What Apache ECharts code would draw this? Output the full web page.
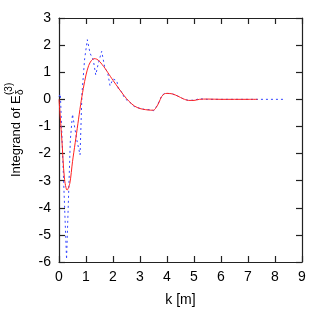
<!DOCTYPE html>
<html>
<head>
<meta charset="utf-8">
<script src="https://cdn.jsdelivr.net/npm/echarts@6/dist/echarts.min.js"></script>
<style>html,body{margin:0;padding:0;background:#fff;}#c{width:327px;height:312px;}</style>
</head>
<body>
<div id="c"></div>
<script>
// Red solid curve (smoothed)
var redK = [0, 0.1, 0.2, 0.3, 0.4, 0.5, 0.6, 0.7, 0.8, 0.9, 1.0, 1.1, 1.2, 1.3, 1.4, 1.5, 1.6, 1.7, 1.8, 1.9, 2.0, 2.2, 2.4, 2.6, 2.8, 3.0, 3.2, 3.4, 3.5, 3.6, 3.7, 3.8, 3.9, 4.0, 4.2, 4.4, 4.6, 4.8, 5.0, 5.2, 5.5, 6.0, 6.5, 7.0, 7.35];
var redV = [0, -1.4, -2.9, -3.35, -3.1, -2.3, -1.6, -0.9, -0.2, 0.4, 0.9, 1.25, 1.43, 1.5, 1.48, 1.4, 1.28, 1.15, 1.0, 0.85, 0.7, 0.42, 0.15, -0.08, -0.25, -0.34, -0.38, -0.4, -0.4, -0.3, -0.12, 0.1, 0.2, 0.22, 0.2, 0.12, 0.02, -0.04, -0.04, 0, 0.01, 0, 0, 0, 0];
// Blue dotted curve (noisy)
var blueK = [0, 0.05, 0.28, 0.42, 0.5, 0.57, 0.66, 0.78, 0.85, 0.95, 1.05, 1.15, 1.27, 1.36, 1.45, 1.58, 1.7, 1.8, 1.89, 2.0, 2.14, 2.2, 2.3, 2.44, 2.6, 2.69, 2.8, 3.0, 3.2, 3.4, 3.5, 3.6, 3.7, 3.8, 3.9, 4.0, 4.2, 4.4, 4.6, 4.8, 5.0, 5.2, 5.5, 6.0, 7.0, 8.0, 8.4];
var blueV = [0.1, 0.2, -5.9, -1.5, -0.55, -0.6, -1.5, -2.05, 0.2, 1.5, 2.2, 1.7, 1.45, 0.9, 1.3, 1.77, 1.15, 1.0, 0.5, 0.75, 0.69, 0.39, 0.3, 0.03, -0.1, -0.16, -0.28, -0.33, -0.38, -0.38, -0.42, -0.28, -0.1, 0.12, 0.22, 0.22, 0.2, 0.12, 0.02, -0.04, -0.03, 0.02, 0, 0, 0, 0, 0];
var xTicks = [0,1,2,3,4,5,6,7,8,9];
var yTicks = [-6,-5,-4,-3,-2,-1,0,1,2,3];

function zip(a, b) { return a.map(function (v, i) { return [v, b[i]]; }); }

var chart = echarts.init(document.getElementById('c'), null, {renderer: 'canvas'});
var font = 'Liberation Sans, Arial, sans-serif';
var axisLine = {show: true, onZero: false, lineStyle: {color: '#222', width: 1.2}};
var tick = {show: true, inside: true, length: 6, lineStyle: {color: '#222', width: 1.2}};
chart.setOption({
  animation: false,
  grid: {left: 59, right: 25, top: 18, bottom: 46},
  xAxis: [{
    type: 'value', min: xTicks[0], max: xTicks[xTicks.length - 1], interval: 1,
    axisLine: axisLine, axisTick: tick, splitLine: {show: false},
    axisLabel: {color: '#000', fontSize: 14, fontFamily: font, margin: 8},
    name: 'k [m]', nameLocation: 'middle', nameGap: 31,
    nameTextStyle: {color: '#000', fontSize: 14, fontFamily: font}
  }, {
    type: 'value', position: 'top', min: 0, max: 9, interval: 1,
    axisLine: axisLine, axisTick: tick, splitLine: {show: false}, axisLabel: {show: false}
  }],
  yAxis: [{
    type: 'value', min: yTicks[0], max: yTicks[yTicks.length - 1], interval: 1,
    axisLine: axisLine, axisTick: tick, splitLine: {show: false},
    axisLabel: {color: '#000', fontSize: 14, fontFamily: font, margin: 8}
  }, {
    type: 'value', position: 'right', min: -6, max: 3, interval: 1,
    axisLine: axisLine, axisTick: tick, splitLine: {show: false}, axisLabel: {show: false}
  }],
  graphic: [{
    type: 'group', x: 16, y: 177, rotation: Math.PI / 2,
    children: [
      {type: 'text', x: 0, y: 0, style: {text: 'Integrand of E', font: '13px ' + font, fill: '#000', verticalAlign: 'middle', align: 'left'}},
      {type: 'text', x: 82, y: -7, style: {text: '(3)', font: '10px ' + font, fill: '#000', verticalAlign: 'middle', align: 'left'}},
      {type: 'text', x: 82, y: 4, style: {text: 'δ', font: '10px ' + font, fill: '#000', verticalAlign: 'middle', align: 'left'}}
    ]
  }],
  series: [{
    type: 'line', data: zip(blueK, blueV), showSymbol: false, smooth: false,
    lineStyle: {color: '#3344ff', width: 1, type: [2, 3]}, z: 2
  }, {
    type: 'line', data: zip(redK, redV), showSymbol: false, smooth: 0.3,
    lineStyle: {color: '#ff2020', width: 1}, z: 3
  }]
});
</script>
</body>
</html>
